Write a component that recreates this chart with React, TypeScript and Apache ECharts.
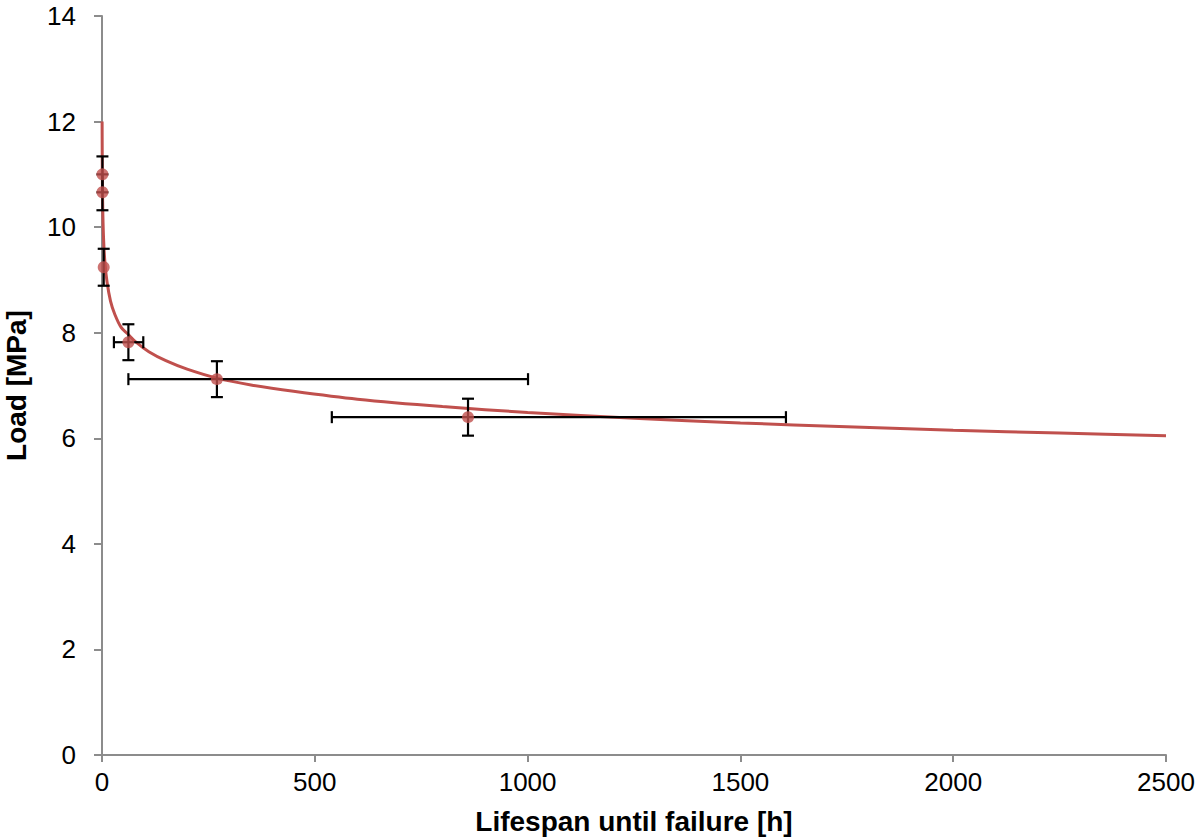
import React, { useEffect, useRef } from "react";
import * as echarts from "echarts";

// Measured points: lifespan [h], load [MPa]
const lifespan = [1, 1, 4, 62, 270, 860];
const load = [11.0, 10.66, 9.24, 7.82, 7.12, 6.4];
// Error bar extents
const lifespanLow = [1, 1, 4, 28, 62, 540];
const lifespanHigh = [1, 1, 4, 97, 1001, 1607];
const loadLow = [10.66, 10.32, 8.89, 7.48, 6.78, 6.05];
const loadHigh = [11.34, 11.0, 9.59, 8.16, 7.46, 6.75];

// Trend curve
const curveX = [0.25, 0.5, 1, 2, 4, 7, 12, 20, 30, 45, 60, 80, 110, 150, 200, 270, 350, 450, 600, 800, 1000, 1250, 1500, 1750, 2000, 2250, 2500];
const curveY = [12.0, 11.45, 10.8, 10.25, 9.72, 9.32, 8.95, 8.6, 8.35, 8.1, 7.98, 7.82, 7.64, 7.47, 7.31, 7.14, 7.01, 6.89, 6.74, 6.6, 6.49, 6.38, 6.29, 6.22, 6.15, 6.1, 6.05];

const xTicks = [0, 500, 1000, 1500, 2000, 2500];
const yTicks = [0, 2, 4, 6, 8, 10, 12, 14];

const RED = "#c0504d";
const AXIS = "#8c8c8c";
const FONT = "Liberation Sans, Arial, Helvetica, sans-serif";

export default function App() {
  const ref = useRef<HTMLDivElement>(null);
  useEffect(() => {
    if (!ref.current) return;
    const chart = echarts.init(ref.current, undefined, { renderer: "svg" });
    const errData = lifespan.map((x, i) => [x, load[i], lifespanLow[i], lifespanHigh[i], loadLow[i], loadHigh[i]]);
    chart.setOption({
      animation: false,
      backgroundColor: "#ffffff",
      grid: { left: 102, right: 34, top: 16, bottom: 85, containLabel: false, outerBoundsMode: "none" },
      xAxis: {
        type: "value",
        min: xTicks[0],
        max: xTicks[xTicks.length - 1],
        interval: 500,
        name: "Lifespan until failure [h]",
        nameLocation: "middle",
        nameGap: 52,
        nameTextStyle: { fontFamily: FONT, fontSize: 28, fontWeight: "bold", color: "#000" },
        axisLine: { lineStyle: { color: AXIS, width: 2 } },
        axisTick: { show: true, length: 7, lineStyle: { color: AXIS, width: 2 } },
        axisLabel: { fontFamily: FONT, fontSize: 26, color: "#000", margin: 14, formatter: (v: number) => String(v) },
        splitLine: { show: false },
      },
      yAxis: {
        type: "value",
        min: yTicks[0],
        max: yTicks[yTicks.length - 1],
        interval: 2,
        name: "Load [MPa]",
        nameLocation: "middle",
        nameGap: 72,
        nameRotate: 90,
        nameTextStyle: { fontFamily: FONT, fontSize: 28, fontWeight: "bold", color: "#000" },
        axisLine: { show: true, lineStyle: { color: AXIS, width: 2 } },
        axisTick: { show: true, length: 8, lineStyle: { color: AXIS, width: 2 } },
        axisLabel: { fontFamily: FONT, fontSize: 26, color: "#000", margin: 26, formatter: (v: number) => String(v) },
        splitLine: { show: false },
      },
      series: [
        {
          type: "line",
          data: curveX.map((x, i) => [x, curveY[i]]),
          showSymbol: false,
          smooth: 0.3,
          lineStyle: { color: RED, width: 3 },
          z: 2,
        },
        {
          type: "custom",
          data: errData,
          encode: { x: 0, y: 1 },
          z: 3,
          renderItem: (params: any, api: any) => {
            const x = api.value(0);
            const y = api.value(1);
            const xl = api.value(2);
            const xh = api.value(3);
            const yl = api.value(4);
            const yh = api.value(5);
            const c = api.coord([x, y]);
            const pyl = api.coord([x, yl]);
            const pyh = api.coord([x, yh]);
            const pxl = api.coord([xl, y]);
            const pxh = api.coord([xh, y]);
            const cap = 6;
            const st = { stroke: "#000", lineWidth: 2.2 };
            const children: any[] = [
              { type: "line", shape: { x1: c[0], y1: pyl[1], x2: c[0], y2: pyh[1] }, style: st },
              { type: "line", shape: { x1: c[0] - cap, y1: pyl[1], x2: c[0] + cap, y2: pyl[1] }, style: st },
              { type: "line", shape: { x1: c[0] - cap, y1: pyh[1], x2: c[0] + cap, y2: pyh[1] }, style: st },
            ];
            if (xh - xl > 0) {
              children.push(
                { type: "line", shape: { x1: pxl[0], y1: c[1], x2: pxh[0], y2: c[1] }, style: st },
                { type: "line", shape: { x1: pxl[0], y1: c[1] - cap, x2: pxl[0], y2: c[1] + cap }, style: st },
                { type: "line", shape: { x1: pxh[0], y1: c[1] - cap, x2: pxh[0], y2: c[1] + cap }, style: st }
              );
            }
            return { type: "group", children };
          },
        },
        {
          type: "scatter",
          data: lifespan.map((x, i) => [x, load[i]]),
          symbol: "circle",
          symbolSize: 12,
          itemStyle: { color: RED },
          z: 4,
        },
      ],
    });
    return () => chart.dispose();
  }, []);
  return <div ref={ref} style={{ width: 1200, height: 840, position: "absolute", left: 0, top: 0 }} />;
}
